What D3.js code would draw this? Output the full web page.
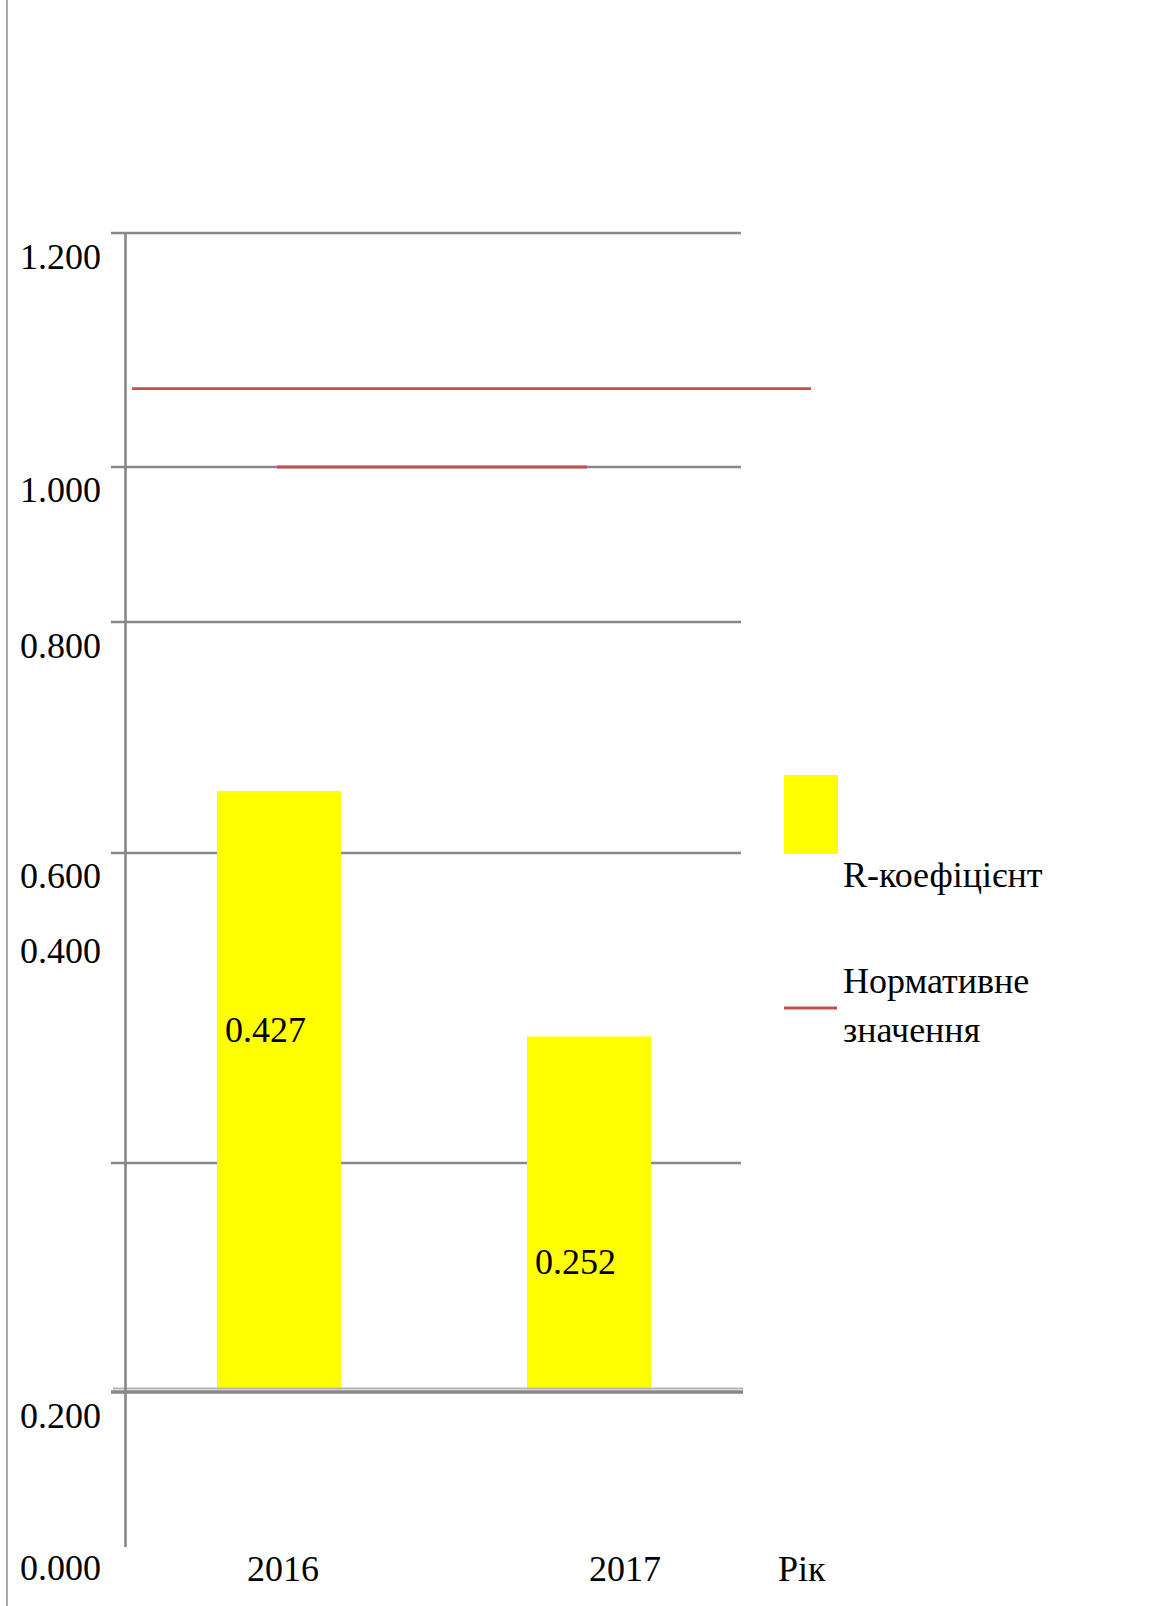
<!DOCTYPE html>
<html>
<head>
<meta charset="utf-8">
<script src="https://cdn.jsdelivr.net/npm/d3@7"></script>
<style>
  html, body { margin: 0; padding: 0; background: #fff; }
  svg { display: block; }
  text { font-family: "Liberation Serif", "Times New Roman", serif; fill: #000; }
</style>
</head>
<body>
<script>
// ---- data ----
const categories = ["2016", "2017"];
const rValues = [0.427, 0.252];
const barLabels = ["0.427", "0.252"];
const tickValues = [0, 0.2, 0.4, 0.6, 0.8, 1.0, 1.2];
const tickLabels = ["0.000", "0.200", "0.400", "0.600", "0.800", "1.000", "1.200"];
const normLevels = [1.067, 1.0];
const legendLabels = ["R-коефіцієнт", ["Нормативне", "значення"]];
const axisTitle = "Рік";

const W = 1170, H = 1606;
const svg = d3.select("body").append("svg").attr("width", W).attr("height", H);

// ---- scales ----
// the picture's value axis is distorted: gridlines and tick labels sit at uneven positions
const yGrid = d3.scaleLinear().domain(tickValues).range([1545, 1392, 1163, 853, 622, 467, 233]);
const yLabel = d3.scaleLinear().domain(tickValues).range([1580, 1428, 963, 888, 658, 502, 269]);
const yBar = d3.scaleLinear().domain([0, 1]).range([1390, -13]);
const x = d3.scaleBand().domain(categories).range([124, 744]).paddingInner(0.6).paddingOuter(0.3);
const xLab = d3.scalePoint().domain(categories).range([283, 625]);

const gridColor = "#878787";
const red = "#C0504D";
const fs = 36;

// left page border
svg.append("line").attr("x1", 7).attr("x2", 7).attr("y1", 0).attr("y2", H)
  .attr("stroke", "#a8a8a8").attr("stroke-width", 2);

// gridlines (except 0 and baseline)
svg.append("g").selectAll("line")
  .data(tickValues.filter(v => v > 0.2))
  .join("line")
  .attr("x1", 111).attr("x2", 741)
  .attr("y1", d => yGrid(d)).attr("y2", d => yGrid(d))
  .attr("stroke", gridColor).attr("stroke-width", 2.6);

// bars
svg.append("g").selectAll("rect")
  .data(rValues)
  .join("rect")
  .attr("x", (d, i) => x(categories[i]))
  .attr("width", x.bandwidth())
  .attr("y", d => yBar(d))
  .attr("height", d => yBar(0) - yBar(d))
  .attr("fill", "#FFFF00");

// baseline (0.2 gridline, with shadow)
svg.append("line").attr("x1", 113).attr("x2", 743)
  .attr("y1", yGrid(0.2) - 3.5).attr("y2", yGrid(0.2) - 3.5)
  .attr("stroke", "#b5b5b5").attr("stroke-width", 2);
svg.append("line").attr("x1", 111).attr("x2", 743)
  .attr("y1", yGrid(0.2)).attr("y2", yGrid(0.2))
  .attr("stroke", gridColor).attr("stroke-width", 3.5);

// vertical axis
svg.append("line").attr("x1", 125.5).attr("x2", 125.5)
  .attr("y1", yGrid(1.2)).attr("y2", yGrid(0) + 2)
  .attr("stroke", gridColor).attr("stroke-width", 2.6);

// normative lines
const c0 = x(categories[0]) + x.bandwidth() / 2;
const c1 = x(categories[1]) + x.bandwidth() / 2;
svg.append("line").attr("x1", 132).attr("x2", 811)
  .attr("y1", yGrid(normLevels[0])).attr("y2", yGrid(normLevels[0]))
  .attr("stroke", red).attr("stroke-width", 2.8);
svg.append("line").attr("x1", c0 - 2).attr("x2", c1 - 2)
  .attr("y1", yGrid(normLevels[1])).attr("y2", yGrid(normLevels[1]))
  .attr("stroke", red).attr("stroke-width", 2.8);

// y tick labels
svg.append("g").selectAll("text")
  .data(tickValues)
  .join("text")
  .attr("x", 101)
  .attr("y", d => yLabel(d))
  .attr("text-anchor", "end")
  .attr("font-size", fs)
  .text((d, i) => tickLabels[i]);

// bar value labels
svg.append("g").selectAll("text")
  .data(rValues)
  .join("text")
  .attr("x", (d, i) => x(categories[i]) + 8)
  .attr("y", d => yBar(d) + 217 + 0.057 * (yBar(0) - yBar(d)))
  .attr("font-size", fs)
  .text((d, i) => barLabels[i]);

// category labels
svg.append("g").selectAll("text")
  .data(categories)
  .join("text")
  .attr("x", d => xLab(d))
  .attr("y", 1581)
  .attr("text-anchor", "middle")
  .attr("font-size", fs)
  .text(d => d);

svg.append("text").attr("x", 778).attr("y", 1581).attr("font-size", fs).text(axisTitle);

// legend
svg.append("rect").attr("x", 784).attr("y", 775).attr("width", 54).attr("height", 79).attr("fill", "#FFFF00");
svg.append("text").attr("x", 843).attr("y", 887).attr("font-size", fs).text(legendLabels[0]);
svg.append("line").attr("x1", 784).attr("x2", 837).attr("y1", 1008).attr("y2", 1008)
  .attr("stroke", red).attr("stroke-width", 2.8);
svg.append("text").attr("x", 843).attr("y", 993).attr("font-size", fs).text(legendLabels[1][0]);
svg.append("text").attr("x", 843).attr("y", 1042).attr("font-size", fs).text(legendLabels[1][1]);
</script>
</body>
</html>
